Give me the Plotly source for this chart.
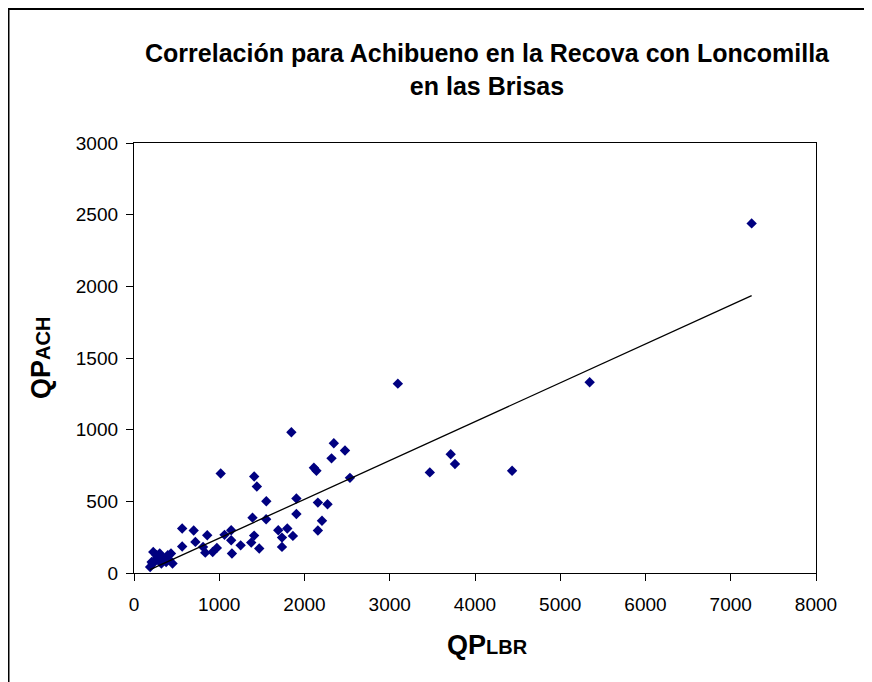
import plotly.graph_objects as go

# Observed data: QP Loncomilla en las Brisas (x) vs QP Achibueno en la Recova (y)
qp_lbr = [189, 207, 219, 226, 245, 264, 283, 302, 321, 339, 377, 396, 414, 434, 452,
          565, 565, 700, 720, 810, 836, 859, 923, 972, 1017,
          1062, 1140, 1140, 1149, 1251, 1375, 1390, 1409, 1410, 1441, 1469,
          1552, 1550, 1692, 1736, 1736, 1798, 1846, 1864, 1905, 1905,
          2110, 2140, 2157, 2157, 2205, 2270, 2317, 2344, 2475, 2533,
          3095, 3470, 3715, 3765, 4435, 5345, 7245]
qp_ach = [42, 77, 65, 147, 89, 124, 100, 136, 66, 100, 77, 124, 93, 136, 66,
          310, 185, 296, 217, 182, 142, 263, 147, 175, 694,
          266, 298, 228, 136, 193, 212, 386, 261, 673, 603, 171,
          501, 375, 298, 247, 182, 310, 982, 259, 520, 412,
          734, 713, 491, 296, 365, 480, 800, 905, 855, 664,
          1321, 702, 828, 760, 713, 1331, 2439]

# Trend line end points as drawn in the reference
trend_x = [188, 7245]
trend_y = [23, 1935]

x_ticks = [0, 1000, 2000, 3000, 4000, 5000, 6000, 7000, 8000]
y_ticks = [0, 500, 1000, 1500, 2000, 2500, 3000]

FONT = "Liberation Sans, Arial, sans-serif"

fig = go.Figure()
fig.add_trace(go.Scatter(
    x=qp_lbr, y=qp_ach, mode="markers",
    marker=dict(symbol="diamond", size=8, color="#000080",
                line=dict(width=0)),
    name="Datos", showlegend=False))
fig.add_trace(go.Scatter(
    x=trend_x, y=trend_y, mode="lines",
    line=dict(color="black", width=1.3),
    name="Tendencia", showlegend=False))

W, H = 872, 682
# page body has an 8px margin, so figure coordinates are page coordinates - 8
L, R, T, B = 126, 64, 135, 117
pw = W - L - R
ph = H - T - B

axis_common = dict(showgrid=False, zeroline=False, showline=True,
                   linecolor="black", linewidth=1.3, mirror=True,
                   ticks="outside", ticklen=7, tickwidth=1.3, tickcolor="black",
                   tickfont=dict(family=FONT, size=19, color="black"))

fig.update_layout(
    width=W, height=H, autosize=False,
    margin=dict(l=L, r=R, t=T, b=B, pad=0),
    paper_bgcolor="white", plot_bgcolor="white",
    title=dict(
        text="Correlación para Achibueno en la Recova con Loncomilla<br>en las Brisas",
        font=dict(family=FONT, size=25, color="black", weight="bold"),
        x=479 / W, xanchor="center", xref="container",
        y=1 - 54 / H, yanchor="middle", yref="container"),
    xaxis=dict(range=[0, 8000], tickvals=x_ticks, ticklabelstandoff=7, **axis_common),
    yaxis=dict(range=[0, 3000], tickvals=y_ticks, ticklabelstandoff=4, **axis_common),
)

fig.add_annotation(
    text="<b>QP<span style='font-size:20px'>LBR</span></b>",
    xref="paper", yref="paper", x=(479 - L) / pw, y=0, xanchor="center", yanchor="middle",
    yshift=-72, showarrow=False,
    font=dict(family=FONT, size=27, color="black"))
fig.add_annotation(
    text="<b>QP<span style='font-size:20px'>ACH</span></b>",
    xref="paper", yref="paper", x=0, y=0.5, xanchor="center", yanchor="middle",
    xshift=-(L - 33), textangle=-90, showarrow=False,
    font=dict(family=FONT, size=27, color="black"))

# outer chart border (extends past right/bottom edges as in the reference)
fig.add_shape(type="rect", xref="paper", yref="paper",
              x0=(0.5 - L) / pw, x1=(W + 20 - L) / pw,
              y0=(H - B - (H + 20)) / ph, y1=(H - B - 1) / ph,
              line=dict(color="black", width=2), fillcolor="rgba(0,0,0,0)",
              layer="below")

fig.write_html("out.html")
